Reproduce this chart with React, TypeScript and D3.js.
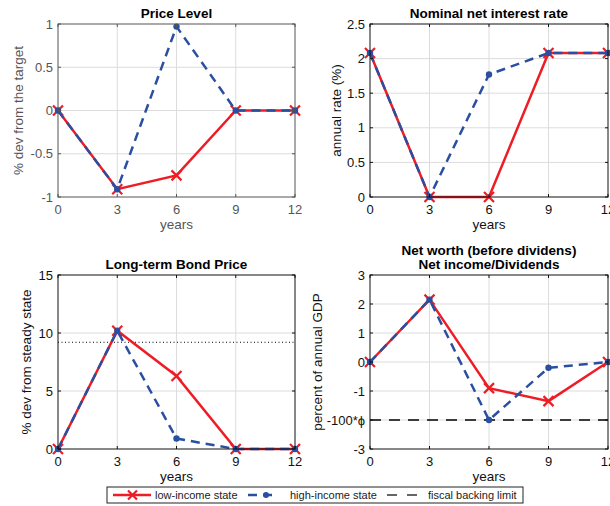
import React, { useEffect, useRef } from 'react';
import * as d3 from 'd3';

const years = [0, 3, 6, 9, 12];

const priceLow = [0, -0.91, -0.75, 0, 0];
const priceHigh = [0, -0.91, 0.97, 0, 0];

const rateLow = [2.08, 0, 0, 2.08, 2.08];
const rateHigh = [2.08, 0, 1.77, 2.08, 2.08];

const bondLow = [0, 10.2, 6.3, 0, 0];
const bondHigh = [0, 10.2, 0.9, 0, 0];
const bondRef = 9.2;

const worthLow = [0, 2.15, -0.9, -1.35, 0];
const worthHigh = [0, 2.15, -2.0, -0.2, 0];
const fiscalLimit = -2;

const priceTicks = [-1, -0.5, 0, 0.5, 1];
const rateTicks = [0, 0.5, 1, 1.5, 2, 2.5];
const bondTicks = [0, 5, 10, 15];
const worthTicks = [-3, -2, -1, 0, 1, 2, 3];

const RED = '#ee1d25';
const BLUE = '#2b4fa0';
const FONT = 'Liberation Sans, Arial, sans-serif';

const panels = [
  {
    title: ['Price Level'], ylabel: '% dev from the target', low: priceLow, high: priceHigh,
    domain: [-1, 1], ticks: priceTicks, x0: 58, x1: 295, y0: 24, y1: 197, ylabX: 18, ink: '#555',
    fmt: (d: number) => String(d),
  },
  {
    title: ['Nominal net interest rate'], ylabel: 'annual rate (%)', low: rateLow, high: rateHigh,
    domain: [0, 2.5], ticks: rateTicks, x0: 370, x1: 608, y0: 24, y1: 197, ylabX: 336, ink: '#111',
    fmt: (d: number) => String(d),
  },
  {
    title: ['Long-term Bond Price'], ylabel: '% dev from steady state', low: bondLow, high: bondHigh,
    domain: [0, 15], ticks: bondTicks, x0: 58, x1: 295, y0: 275, y1: 449, ylabX: 26, ink: '#111',
    fmt: (d: number) => String(d), dotted: bondRef,
  },
  {
    title: ['Net worth (before dividens)', 'Net income/Dividends'], ylabel: 'percent of annual GDP',
    low: worthLow, high: worthHigh, domain: [-3, 3], ticks: worthTicks, x0: 370, x1: 608, y0: 275, y1: 449,
    ylabX: 317, ink: '#111', fmt: (d: number) => (d === fiscalLimit ? '-100*\u03d5' : String(d)), dashed: fiscalLimit,
  },
];

export default function App() {
  const ref = useRef<SVGSVGElement>(null);

  useEffect(() => {
    const svg = d3.select(ref.current);
    svg.selectAll('*').remove();

    panels.forEach((p) => {
      const x = d3.scaleLinear().domain([0, 12]).range([p.x0, p.x1]);
      const y = d3.scaleLinear().domain(p.domain).range([p.y1, p.y0]);
      const g = svg.append('g');

      // white plot area + grid
      g.append('rect').attr('x', p.x0).attr('y', p.y0).attr('width', p.x1 - p.x0).attr('height', p.y1 - p.y0).attr('fill', '#fff');
      g.selectAll('.gx').data(years.slice(1, -1)).join('line')
        .attr('x1', (d) => x(d)).attr('x2', (d) => x(d)).attr('y1', p.y0).attr('y2', p.y1)
        .attr('stroke', '#dcdcdc').attr('stroke-width', 1);
      g.selectAll('.gy').data(p.ticks.slice(1, -1)).join('line')
        .attr('y1', (d) => y(d)).attr('y2', (d) => y(d)).attr('x1', p.x0).attr('x2', p.x1)
        .attr('stroke', '#dcdcdc').attr('stroke-width', 1);

      if (p.dotted !== undefined) {
        g.append('line').attr('x1', p.x0).attr('x2', p.x1).attr('y1', y(p.dotted)).attr('y2', y(p.dotted))
          .attr('stroke', '#000').attr('stroke-width', 1).attr('stroke-dasharray', '1,2.5');
      }
      if (p.dashed !== undefined) {
        g.append('line').attr('x1', p.x0).attr('x2', p.x1).attr('y1', y(p.dashed)).attr('y2', y(p.dashed))
          .attr('stroke', '#000').attr('stroke-width', 1.3).attr('stroke-dasharray', '11,8');
      }

      const line = d3.line<number>().x((d, i) => x(years[i])).y((d) => y(d));

      g.append('path').attr('d', line(p.low)).attr('fill', 'none').attr('stroke', RED).attr('stroke-width', 2.5);
      g.selectAll('.mx').data(p.low).join('path')
        .attr('d', (d, i) => {
          const cx = x(years[i]);
          const cy = y(d);
          const s = 5;
          return `M${cx - s},${cy - s}L${cx + s},${cy + s}M${cx - s},${cy + s}L${cx + s},${cy - s}`;
        })
        .attr('stroke', RED).attr('stroke-width', 2.2).attr('fill', 'none');

      g.append('path').attr('d', line(p.high)).attr('fill', 'none').attr('stroke', BLUE).attr('stroke-width', 2.5)
        .attr('stroke-dasharray', '9,6');
      g.selectAll('.md').data(p.high).join('circle')
        .attr('cx', (d, i) => x(years[i])).attr('cy', (d) => y(d)).attr('r', 3.2).attr('fill', BLUE);

      // box and ticks
      g.append('rect').attr('x', p.x0).attr('y', p.y0).attr('width', p.x1 - p.x0).attr('height', p.y1 - p.y0)
        .attr('fill', 'none').attr('stroke', p.ink).attr('stroke-width', 1);
      const tl = 3;
      years.forEach((t) => {
        g.append('line').attr('x1', x(t)).attr('x2', x(t)).attr('y1', p.y1).attr('y2', p.y1 - tl).attr('stroke', p.ink);
        g.append('line').attr('x1', x(t)).attr('x2', x(t)).attr('y1', p.y0).attr('y2', p.y0 + tl).attr('stroke', p.ink);
        g.append('text').attr('x', x(t)).attr('y', p.y1 + 17).attr('text-anchor', 'middle')
          .attr('font-size', 13).attr('fill', p.ink).attr('font-family', FONT).text(String(t));
      });
      p.ticks.forEach((t) => {
        g.append('line').attr('y1', y(t)).attr('y2', y(t)).attr('x1', p.x0).attr('x2', p.x0 + tl).attr('stroke', p.ink);
        g.append('line').attr('y1', y(t)).attr('y2', y(t)).attr('x1', p.x1).attr('x2', p.x1 - tl).attr('stroke', p.ink);
        g.append('text').attr('x', p.x0 - 5).attr('y', y(t) + 4.5).attr('text-anchor', 'end')
          .attr('font-size', 13).attr('fill', p.ink).attr('font-family', FONT).text(p.fmt(t));
      });

      g.append('text').attr('x', (p.x0 + p.x1) / 2).attr('y', p.y1 + 32).attr('text-anchor', 'middle')
        .attr('font-size', 13.5).attr('fill', p.ink).attr('font-family', FONT).text('years');

      g.append('text')
        .attr('transform', `translate(${p.ylabX},${(p.y0 + p.y1) / 2}) rotate(-90)`)
        .attr('text-anchor', 'middle').attr('dy', '0.35em')
        .attr('font-size', 13.5).attr('fill', p.ink).attr('font-family', FONT).text(p.ylabel);

      p.title.forEach((t, i) => {
        g.append('text').attr('x', (p.x0 + p.x1) / 2)
          .attr('y', p.y0 - 6 - (p.title.length - 1 - i) * 14)
          .attr('text-anchor', 'middle').attr('font-size', 13.5).attr('font-weight', 'bold')
          .attr('fill', '#000').attr('font-family', FONT).text(t);
      });
    });

    // legend
    const lg = svg.append('g');
    lg.append('rect').attr('x', 107).attr('y', 487).attr('width', 416).attr('height', 16)
      .attr('fill', '#fff').attr('stroke', '#222').attr('stroke-width', 1);
    const ly = 495;
    lg.append('line').attr('x1', 113).attr('x2', 151).attr('y1', ly).attr('y2', ly).attr('stroke', RED).attr('stroke-width', 2.5);
    lg.append('path').attr('d', `M128,${ly - 4.5}L137,${ly + 4.5}M128,${ly + 4.5}L137,${ly - 4.5}`)
      .attr('stroke', RED).attr('stroke-width', 2.2);
    lg.append('line').attr('x1', 248).attr('x2', 278).attr('y1', ly).attr('y2', ly).attr('stroke', BLUE)
      .attr('stroke-width', 2.5).attr('stroke-dasharray', '9,6');
    lg.append('circle').attr('cx', 266).attr('cy', ly).attr('r', 3).attr('fill', BLUE);
    lg.append('line').attr('x1', 387).attr('x2', 418).attr('y1', ly).attr('y2', ly).attr('stroke', '#333')
      .attr('stroke-width', 1.3).attr('stroke-dasharray', '10,10');
    const labels = [
      { x: 155, t: 'low-income state' },
      { x: 290, t: 'high-income state' },
      { x: 428, t: 'fiscal backing limit' },
    ];
    labels.forEach((l) => {
      lg.append('text').attr('x', l.x).attr('y', ly + 4).attr('font-size', 11).attr('fill', '#222')
        .attr('font-family', FONT).text(l.t);
    });
  }, []);

  return (
    <div style={{ position: 'absolute', left: 0, top: 0, background: '#fff' }}>
      <svg ref={ref} width={610} height={506} style={{ display: 'block' }} />
    </div>
  );
}
